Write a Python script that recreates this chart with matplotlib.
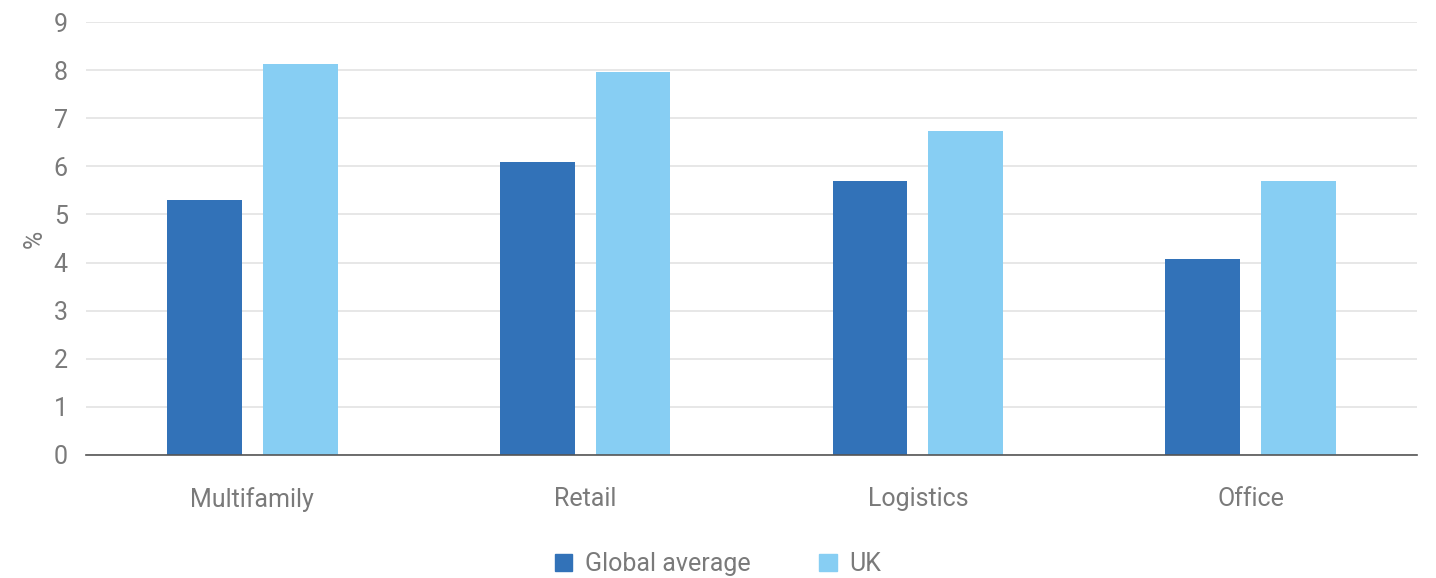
import matplotlib
matplotlib.use('Agg')
import matplotlib.pyplot as plt
import numpy as np
from matplotlib.patches import Patch

plt.rcParams['font.family'] = ['Roboto', 'DejaVu Sans']

categories = ['Multifamily', 'Retail', 'Logistics', 'Office']
global_avg = [5.3, 6.1, 5.7, 4.08]
uk = [8.13, 7.96, 6.73, 5.7]
yticks = list(range(0, 10))

c_global = '#3272b8'
c_uk = '#87cef3'
txt = '#7a7a7a'
fs = 18

fig = plt.figure(figsize=(14.36, 5.78), dpi=100)
ax = fig.add_axes([86/1436, 1-455/578, 1331/1436, 433/578])

x = np.arange(len(categories))
w = 0.225
off = 0.144
ax.bar(x - off, global_avg, width=w, color=c_global, zorder=3)
ax.bar(x + off, uk, width=w, color=c_uk, zorder=3)

ax.set_xlim(-0.5, 3.5)
ax.set_ylim(0, 9)
ax.set_yticks(yticks)
ax.set_xticks(x)
ax.set_xticklabels(categories)
ax.yaxis.grid(True, color='#e3e3e3', linewidth=1.2, zorder=0)
ax.set_axisbelow(True)
for s in ['top', 'right', 'left']:
    ax.spines[s].set_visible(False)
ax.spines['bottom'].set_color('#555555')
ax.spines['bottom'].set_linewidth(1.2)
ax.spines['bottom'].set_zorder(4)
ax.tick_params(axis='both', length=0, labelsize=fs, labelcolor=txt)
ax.tick_params(axis='y', pad=13)
ax.tick_params(axis='x', pad=23)

ax.set_ylabel('%', fontsize=fs, color=txt, labelpad=5)

handles = [Patch(color=c_global, label='Global average'), Patch(color=c_uk, label='UK')]
fig.legend(handles=handles, loc='center', bbox_to_anchor=(718/1436, 1-564/578), ncol=2,
           frameon=False, handlelength=0.7, handleheight=0.7,
           handletextpad=0.5, columnspacing=2.75, labelcolor=txt,
           prop={'size': fs})

fig.savefig('out.png', dpi=100)
